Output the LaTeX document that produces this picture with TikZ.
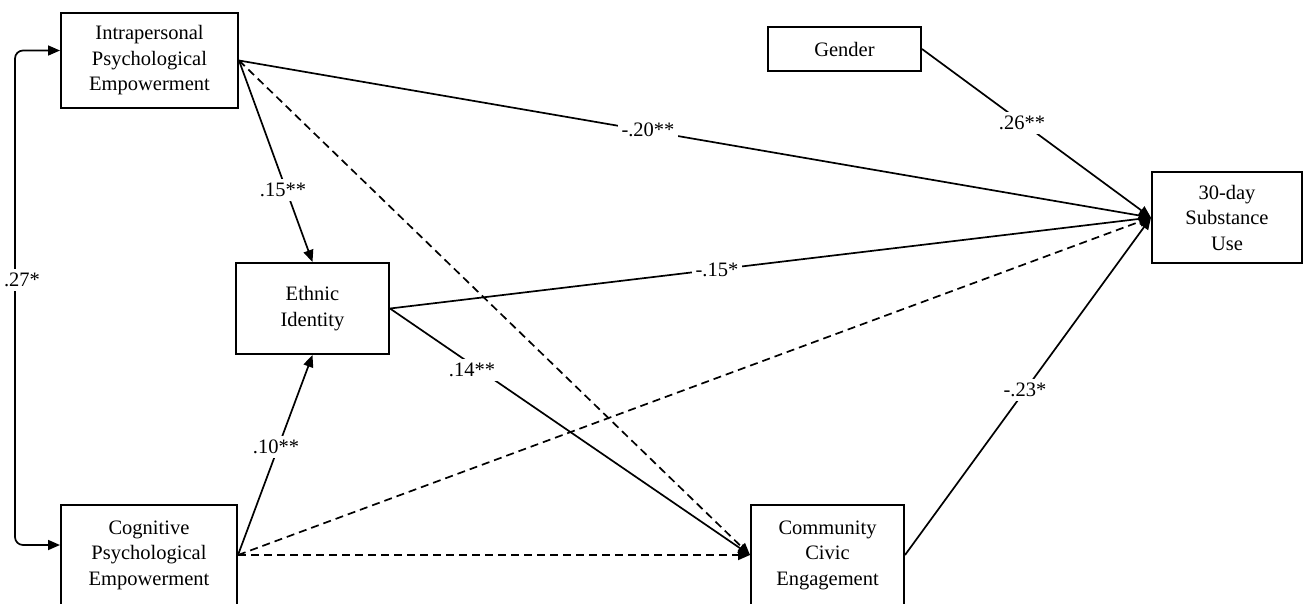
\documentclass[tikz,border=0pt]{standalone}
\usepackage{fontspec}
\setmainfont{Liberation Serif}
\usetikzlibrary{arrows.meta}
\begin{document}
\begin{tikzpicture}[x=1pt,y=-1pt,
  box/.style={draw, line width=2pt, inner sep=0pt, align=center, font=\fontsize{20.5}{25.5}\selectfont},
  lbl/.style={fill=white, inner sep=4pt, font=\fontsize{20.5}{24}\selectfont},
  conn/.style={line width=1.7pt, -{Triangle[length=12pt,width=10pt]}},
  dconn/.style={conn, dash pattern=on 8pt off 5pt}]
\useasboundingbox (0,0) rectangle (1304,603);
% boxes
\node[box, minimum width=177pt, minimum height=95pt] (intra) at (149.5,60.5) {Intrapersonal\\Psychological\\Empowerment};
\node[box, minimum width=176pt, minimum height=100pt] (cog) at (149,555) {Cognitive\\Psychological\\Empowerment};
\node[box, minimum width=153pt, minimum height=91pt] (eth) at (312.5,308.5) {Ethnic\\Identity};
\node[box, minimum width=153pt, minimum height=44pt] (gen) at (844.5,49) {Gender};
\node[box, minimum width=150pt, minimum height=91pt] (sub) at (1227,217.5) {30-day\\Substance\\Use};
\node[box, minimum width=153pt, minimum height=100pt] (com) at (827.5,555) {Community\\Civic\\Engagement};
% connectors
\draw[line width=1.7pt, {Triangle[length=12pt,width=10pt]}-{Triangle[length=12pt,width=10pt]}, rounded corners=8pt]
  ([yshift=10pt]intra.west) -- (15,50.5) -- (15,545) -- ([yshift=10pt]cog.west);
\draw[conn] (intra.east) -- (sub.west);
\draw[dconn] (intra.east) -- (com.west);
\draw[conn] (intra.east) -- (eth.north);
\draw[conn] (eth.east) -- (sub.west);
\draw[conn] (eth.east) -- (com.west);
\draw[conn] (cog.east) -- (eth.south);
\draw[dconn] (cog.east) -- (sub.west);
\draw[dconn] (cog.east) -- (com.west);
\draw[conn] (com.east) -- (sub.west);
\draw[conn] (gen.east) -- (sub.west);
% labels
\node[lbl] (l27) at (22,280) {.27*};
\node[lbl] (l20) at (648,130) {-.20**};
\node[lbl] (l15a) at (283,190) {.15**};
\node[lbl] (l15b) at (717,270) {-.15*};
\node[lbl] (l14) at (472,370) {.14**};
\node[lbl] (l10) at (276,447) {.10**};
\node[lbl] (l23) at (1025,390) {-.23*};
\node[lbl] (l26) at (1022,123) {.26**};
\end{tikzpicture}
\end{document}
